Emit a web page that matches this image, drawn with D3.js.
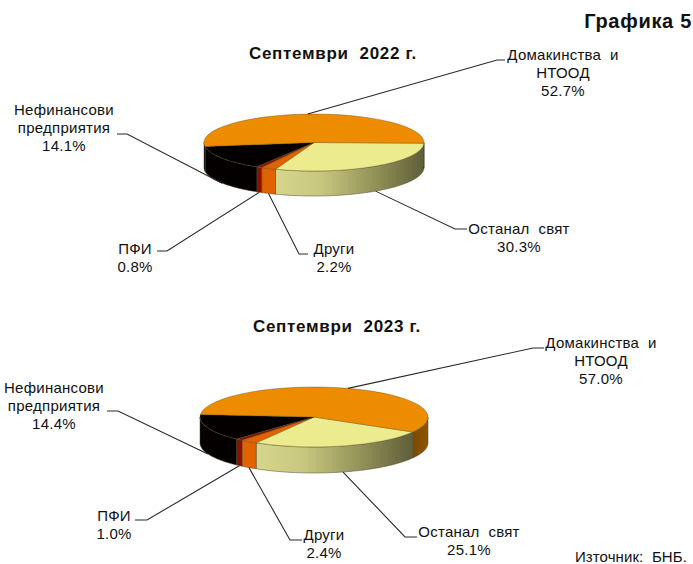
<!DOCTYPE html>
<html><head><meta charset="utf-8">
<script src="https://cdn.jsdelivr.net/npm/d3@7"></script>
<style>html,body{margin:0;background:#fff}svg{display:block}text{font-family:"Liberation Sans",Arial,sans-serif;fill:#111;white-space:pre}</style>
</head><body><svg width="693" height="564"></svg>
<script>
const categories = ["Останал свят","Други","ПФИ","Нефинансови предприятия","Домакинства и НТООД"];
const values2022 = [30.3,2.2,0.8,14.1,52.7];
const values2023 = [25.1,2.4,1.0,14.4,57.0];
const labels2022 = ["30.3%","2.2%","0.8%","14.1%","52.7%"];
const labels2023 = ["25.1%","2.4%","1.0%","14.4%","57.0%"];
const topColors = ["#ECEB8E","#E36200","#8C0F00","#050000","#EE8C00"];
const wallStops = [
  [["0%","#D6D58C"],["30%","#C8C780"],["70%","#8E8D55"],["100%","#5E5E3A"]],
  [["0%","#E36200"],["100%","#E36200"]],
  [["0%","#8C0F00"],["100%","#8C0F00"]],
  [["0%","#050000"],["100%","#050000"]],
  [["0%","#7A4A00"],["100%","#8F5600"]]
];
const charts = [
 {id:"a",title:"Септември  2022 г.",tx:333,ty:59,values:values2022,pct:labels2022,cx:314,cy:142.5,rx:110,ry:28.5,d:25,rot:1.5,darkLastWall:true,
  lab:[
   {lines:["Останал  свят"],x:519,y:234,elbow:[455,229],end:[467,229]},
   {lines:["Други"],x:334,y:254,elbow:[299,254],end:[308,254]},
   {lines:["ПФИ"],x:135,y:254,elbow:[167,251],end:[157,251]},
   {lines:["Нефинансови","предприятия"],x:64,y:115,elbow:[127,134],end:[117,134]},
   {lines:["Домакинства  и","НТООД"],x:563,y:60,elbow:[497,60],end:[505,60]}]},
 {id:"b",title:"Септември  2023 г.",tx:337,ty:332,values:values2023,pct:labels2023,cx:314,cy:417,rx:114,ry:30,d:26,rot:30,darkLastWall:false,
  lab:[
   {lines:["Останал  свят"],x:469,y:537,elbow:[405,537],end:[417,537]},
   {lines:["Други"],x:324,y:540,elbow:[290,540],end:[302,540]},
   {lines:["ПФИ"],x:114,y:521,elbow:[147,520],end:[135,520]},
   {lines:["Нефинансови","предприятия"],x:54,y:393,elbow:[118,411],end:[107,411]},
   {lines:["Домакинства  и","НТООД"],x:601,y:348,elbow:[533,348],end:[544,348]}]}
];
const svg = d3.select("svg");
const defs = svg.append("defs");
const rad = Math.PI/180;
svg.append("text").attr("x",692).attr("y",28).attr("text-anchor","end").attr("font-size",20).attr("letter-spacing",0.7).attr("font-weight","bold").text("Графика 5");
svg.append("text").attr("x",687).attr("y",562).attr("text-anchor","end").attr("font-size",15).attr("letter-spacing",0.1).text("Източник:  БНБ.");

charts.forEach(c=>{
  const g = svg.append("g");
  const pie = d3.pie().sort(null).startAngle((90+c.rot)*rad).endAngle((450+c.rot)*rad);
  const arcs = pie(c.values);
  const px = a=>c.cx+c.rx*Math.sin(a), py=a=>c.cy-c.ry*Math.cos(a);
  const arcGen = d3.arc().innerRadius(0).outerRadius(c.rx);
  wallStops.forEach((st,i)=>{
    const gr = defs.append("linearGradient").attr("id",`w${c.id}${i}`).attr("x1",0).attr("x2",1).attr("y1",0).attr("y2",0);
    st.forEach(s=>gr.append("stop").attr("offset",s[0]).attr("stop-color",s[1]));
  });
  const wall = (a0,a1)=>{
    const segs=[];
    for(const k of [0,2*Math.PI]){
      const s=Math.max(a0,Math.PI/2+k), e=Math.min(a1,1.5*Math.PI+k);
      if(e>s) segs.push([s,e]);
    }
    return segs.map(([s,e])=>{
      const p=d3.path(); p.moveTo(px(s),py(s));
      const n=48;
      for(let i=1;i<=n;i++){const a=s+(e-s)*i/n;p.lineTo(px(a),py(a));}
      for(let i=n;i>=0;i--){const a=s+(e-s)*i/n;p.lineTo(px(a),py(a)+c.d);}
      p.closePath(); return p.toString();
    });
  };
  arcs.forEach((d,i)=>{
    const idx = (c.darkLastWall && i===4) ? 3 : i;
    wall(d.startAngle,d.endAngle).forEach(w=>{
      g.append("path").attr("d",w).attr("fill",`url(#w${c.id}${idx})`).attr("stroke","#4a4a30").attr("stroke-width",0.5);
    });
  });
  arcs.forEach((d,i)=>{
    g.append("path").attr("transform",`translate(${c.cx},${c.cy}) scale(1,${c.ry/c.rx})`)
     .attr("d",arcGen(d)).attr("fill",topColors[i]).attr("stroke","#5a4a10").attr("stroke-width",0.6);
  });
  arcs.forEach((d,i)=>{
    const m=(d.startAngle+d.endAngle)/2, L=c.lab[i];
    const front=Math.cos(m)<0;
    const pts=[[px(m),py(m)+(front?c.d:0)],L.elbow,L.end];
    svg.append("path").attr("d",d3.line()(pts)).attr("fill","none").attr("stroke","#2a2a2a").attr("stroke-width",1.1);
    const t=svg.append("text").attr("text-anchor","middle").attr("font-size",15).attr("letter-spacing",0.25);
    [...L.lines,c.pct[i]].forEach((s,j)=>t.append("tspan").attr("x",L.x).attr("y",L.y+j*18.2).text(s));
  });
  svg.append("text").attr("x",c.tx).attr("y",c.ty).attr("text-anchor","middle").attr("font-size",17).attr("letter-spacing",0.7).attr("font-weight","bold").text(c.title);
});
</script></body></html>
